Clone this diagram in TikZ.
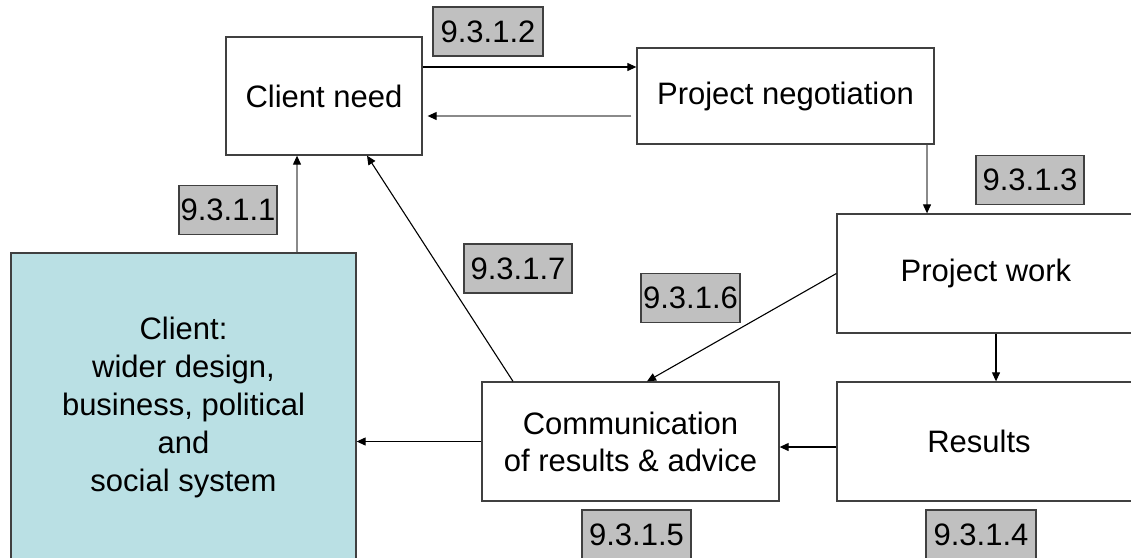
\documentclass[tikz,border=0pt]{standalone}
\usepackage{fontspec}
\setmainfont{Liberation Sans}
\usetikzlibrary{arrows.meta}
\definecolor{boxline}{HTML}{404040}
\definecolor{tagfill}{HTML}{C0C0C0}
\definecolor{clientfill}{HTML}{BAE0E4}
\definecolor{softline}{HTML}{8A8A8A}
\newcommand\diagfont{\fontsize{31}{38}\selectfont}
\begin{document}
\begin{tikzpicture}[x=1pt,y=-1pt,
  box/.style={draw=boxline,line width=1.3pt,fill=white,inner sep=0pt,
    font=\diagfont,align=center},
  tag/.style={draw=boxline,line width=1.2pt,fill=tagfill,inner sep=0pt,
    font=\diagfont,minimum height=49pt},
  arr/.style={draw=black,line width=1.1pt,-{Triangle[length=9pt,width=8pt]}},
  softarr/.style={draw=softline,line width=1.1pt,-{Triangle[length=9pt,width=8pt,color=black]}}
]
\useasboundingbox (0,0) rectangle (1131,557);
\clip (0,0) rectangle (1131,557);

% process boxes
\node[box,minimum width=196pt,minimum height=118pt] (cn) at (324,96) {Client need};
\node[box,minimum width=297pt,minimum height=96pt] (pn) at (785.5,96) {Project negotiation};
\node[box,minimum width=298pt,minimum height=119pt] (pw) at (986,273.5) {Project work};
\node[box,minimum width=298pt,minimum height=119pt] (res) at (986,441.5) {};
\node[font=\diagfont] (resT) at (979,441) {Results};
\node[box,minimum width=297pt,minimum height=119pt,font=\fontsize{31}{37}\selectfont] (comm) at (630.5,441.5) {Communication\\of results \& advice};
\node[box,fill=clientfill,minimum width=345pt,minimum height=308pt] (client) at (183.5,407)
  {Client:\\wider design,\\business, political\\and\\social system};

% section tags
\node[tag,minimum width=110pt] (t2) at (488,31.5) {9.3.1.2};
\node[tag,minimum width=98pt] (t1) at (228,210) {9.3.1.1};
\node[tag,minimum width=108pt] (t7) at (518,268.5) {9.3.1.7};
\node[tag,minimum width=99pt] (t6) at (690.5,298) {9.3.1.6};
\node[tag,minimum width=108pt] (t3) at (1030,180) {9.3.1.3};
\node[tag,minimum width=109pt] (t5) at (636.5,534.5) {9.3.1.5};
\node[tag,minimum width=110pt] (t4) at (981,534.5) {9.3.1.4};

% connectors
\draw[arr] ([yshift=29pt]cn.east) -- ([yshift=29pt]cn.east -| pn.west);
\draw[softarr,shorten <=5pt,shorten >=5pt] ([yshift=-20pt]pn.west) -- ([yshift=-20pt]pn.west -| cn.east);
\draw[softarr] ([xshift=113.5pt]client.north) -- ([xshift=113.5pt]client.north |- cn.south);
\draw[arr] ([xshift=-117.5pt]comm.north) -- ([xshift=43pt]cn.south);
\draw[softarr] ([xshift=141.5pt]pn.south) -- ([xshift=141.5pt]pn.south |- pw.north);
\draw[arr] (pw.west) -- ([xshift=16.5pt]comm.north);
\draw[arr] ([xshift=10pt]pw.south) -- ([xshift=10pt]pw.south |- res.north);
\draw[arr] ([yshift=-5.5pt]res.west) -- ([yshift=-5.5pt]res.west -| comm.east);
\draw[arr] (comm.west) -- (comm.west -| client.east);
\end{tikzpicture}
\end{document}
